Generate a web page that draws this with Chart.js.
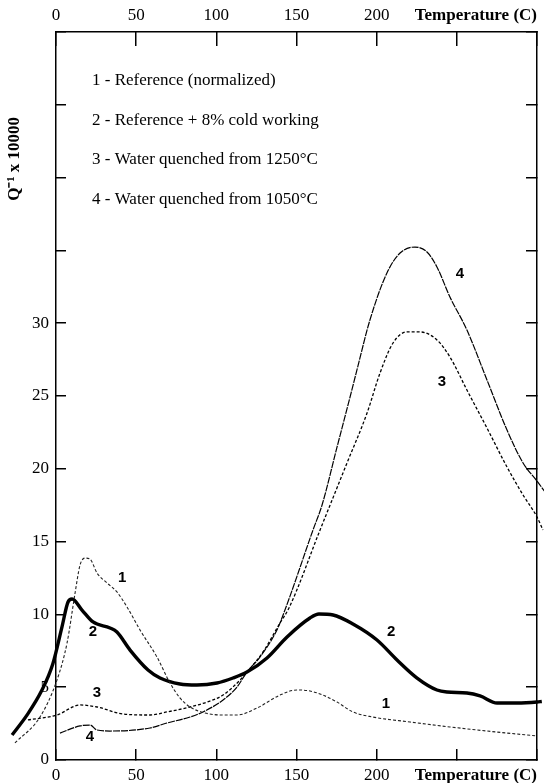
<!DOCTYPE html>
<html>
<head>
<meta charset="utf-8">
<script src="https://cdn.jsdelivr.net/npm/chart.js@4/dist/chart.umd.min.js"></script>
<style>
html,body{margin:0;padding:0;background:#fff;}
canvas{display:block;}
</style>
</head>
<body>
<canvas id="c" width="544" height="783"></canvas>
<script>
// ---- tick labels ----
const xTickLabels = [0, 50, 100, 150, 200];
const yTickLabels = [0, 5, 10, 15, 20, 25, 30];
const xTitle = 'Temperature (C)';
const yTitle = 'Q\u207B\u00B9 x 10000';

// ---- legend text ----
const legendLines = [
  '1 - Reference (normalized)',
  '2 - Reference + 8% cold working',
  '3 - Water quenched from 1250\u00B0C',
  '4 - Water quenched from 1050\u00B0C'
];

// ---- curve 1 : Reference (normalized) ----
const c1T = [-25.6, -10.0, 0.6, 6.9, 11.9, 15.0, 18.1, 21.2, 25.6, 31.8, 38.0, 44.3, 52.4, 63.0, 71.1, 77.3, 83.6, 92.9, 104.2, 112.9, 125.4, 139.7, 150.3, 158.4, 166.5, 175.3, 185.2, 197.7, 220.8, 245.7, 268.8, 300.0];
const c1Q = [1.17, 2.95, 5.49, 8.04, 11.47, 13.39, 13.87, 13.80, 12.84, 12.16, 11.54, 10.51, 8.93, 7.07, 5.29, 4.26, 3.64, 3.23, 3.09, 3.09, 3.57, 4.46, 4.81, 4.74, 4.46, 3.98, 3.30, 2.95, 2.61, 2.27, 1.99, 1.65];

// ---- curve 2 : Reference + 8% cold working ----
const c2T = [-27.4, -18.0, -9.0, -2.0, 3.7, 7.5, 10.0, 16.2, 23.1, 33.7, 38.0, 46.2, 57.4, 64.9, 77.3, 87.9, 100.4, 110.4, 119.1, 131.6, 144.1, 158.4, 164.0, 172.8, 185.2, 200.2, 212.7, 225.2, 237.6, 243.9, 256.3, 264.5, 275.1, 287.5, 300.0, 303.0];
const c2Q = [1.72, 3.10, 4.75, 6.60, 9.13, 10.85, 11.06, 10.30, 9.48, 9.07, 8.79, 7.55, 6.18, 5.63, 5.22, 5.15, 5.29, 5.63, 6.04, 7.01, 8.45, 9.75, 10.03, 9.96, 9.34, 8.24, 6.87, 5.63, 4.81, 4.67, 4.60, 4.40, 3.91, 3.91, 3.98, 4.02];

// ---- curve 3 : Water quenched from 1250°C ----
const c3T = [-17.5, 0.6, 15.0, 25.6, 41.8, 58.6, 69.2, 83.6, 94.2, 104.2, 114.8, 119.1, 129.1, 139.7, 145.3, 164.7, 181.5, 194.0, 202.1, 210.2, 218.9, 227.0, 237.6, 245.7, 256.3, 268.8, 281.3, 291.3, 300.0, 303.7];
const c3Q = [2.75, 3.09, 3.78, 3.64, 3.16, 3.09, 3.30, 3.64, 3.98, 4.46, 5.49, 6.04, 7.42, 9.41, 10.44, 15.80, 20.40, 23.83, 26.58, 28.64, 29.40, 29.40, 28.85, 27.68, 25.41, 22.80, 20.12, 18.20, 16.69, 15.80];

// ---- curve 4 : Water quenched from 1050°C ----
const c4T = [2.5, 15.0, 21.2, 25.6, 33.7, 58.6, 69.2, 83.6, 91.7, 104.2, 112.9, 119.1, 127.2, 137.8, 142.8, 160.3, 165.9, 175.3, 183.4, 187.7, 195.8, 206.4, 214.6, 223.9, 231.4, 237.6, 245.7, 256.3, 268.8, 281.3, 291.3, 300.0, 305.0];
const c4Q = [1.85, 2.34, 2.40, 2.06, 1.99, 2.20, 2.54, 2.95, 3.30, 4.12, 5.01, 6.04, 7.07, 8.93, 10.30, 15.80, 17.50, 21.50, 24.93, 26.79, 30.22, 33.45, 34.82, 35.23, 34.89, 33.86, 31.80, 29.53, 26.10, 22.66, 20.40, 19.16, 18.41];

// ---- curve number tags (text + anchor in data units) ----
const tagText = ['1', '2', '3', '4', '1', '2', '3', '4'];
const tagT = [41.2, 23.1, 25.6, 21.2, 205.8, 209.0, 240.7, 252.0];
const tagQ = [12.5, 8.8, 4.6, 1.6, 3.85, 8.8, 26.0, 33.4];

function pts(T, Q) { return T.map((t, i) => ({ x: t, y: Q[i] })); }

const SERIF = '"Liberation Serif", "Times New Roman", serif';
const SANS = '"Liberation Sans", Arial, sans-serif';

const tagsPlugin = {
  id: 'tags',
  afterDatasetsDraw(chart) {
    const { ctx, chartArea: a, scales } = chart;
    const sx = scales.x, sy = scales.y;
    ctx.save();
    ctx.fillStyle = '#000';
    ctx.font = 'bold 15px ' + SANS;
    ctx.textAlign = 'center';
    ctx.textBaseline = 'middle';
    tagText.forEach((t, i) => ctx.fillText(t, sx.getPixelForValue(tagT[i]), sy.getPixelForValue(tagQ[i])));
    ctx.font = '17px ' + SERIF;
    ctx.textAlign = 'left';
    legendLines.forEach((s, i) => ctx.fillText(s, a.left + 36, a.top + 49 + i * 39.5));
    ctx.restore();
  }
};

const common = {
  pointRadius: 0, fill: false, cubicInterpolationMode: 'monotone',
  clip: false, xAxisID: 'x', yAxisID: 'y', borderColor: '#000'
};

const fixRange = s => { s.min = 0; s.max = 300; };
const sized = (w, h) => s => {
  if (w !== null) s.width = w;
  if (h !== null) s.height = h;
  s.paddingLeft = 0; s.paddingRight = 0; s.paddingTop = 0; s.paddingBottom = 0;
};
const xLabel = v => xTickLabels.includes(v) ? String(v) : '';
const yLabel = v => yTickLabels.includes(v) ? String(v) : '';
const frame = { display: true, color: '#000', width: 1.5 };

new Chart(document.getElementById('c'), {
  type: 'line',
  data: {
    datasets: [
      Object.assign({}, common, { label: legendLines[0], data: pts(c1T, c1Q), borderWidth: 1.1, borderDash: [3, 2], borderColor: '#222' }),
      Object.assign({}, common, { label: legendLines[1], data: pts(c2T, c2Q), borderWidth: 3.4 }),
      Object.assign({}, common, { label: legendLines[2], data: pts(c3T, c3Q), borderWidth: 1.3, borderDash: [3, 2] }),
      Object.assign({}, common, { label: legendLines[3], data: pts(c4T, c4Q), borderWidth: 1.2, borderDash: [7, 1] })
    ]
  },
  options: {
    responsive: false,
    animation: false,
    devicePixelRatio: 1,
    layout: { padding: 0 },
    plugins: { legend: { display: false }, tooltip: { enabled: false } },
    scales: {
      x: {
        type: 'linear', position: 'bottom',
        afterDataLimits: fixRange,
        afterFit: sized(null, 23),
        ticks: { stepSize: 50, autoSkip: false, maxRotation: 0, padding: 16, color: '#000',
                 font: { family: SERIF, size: 17 }, callback: xLabel },
        grid: { drawOnChartArea: false, tickLength: -11, color: '#000', lineWidth: 1.5 },
        border: frame,
        title: { display: true, text: xTitle, align: 'end', color: '#000',
                 font: { family: SERIF, size: 17, weight: 'bold', lineHeight: 1.2 },
                 padding: { top: 0, bottom: -3 } }
      },
      x2: {
        type: 'linear', position: 'top',
        afterDataLimits: fixRange,
        afterFit: sized(null, 32),
        ticks: { stepSize: 50, autoSkip: false, maxRotation: 0, padding: 20, color: '#000',
                 font: { family: SERIF, size: 17 }, callback: xLabel },
        grid: { drawOnChartArea: false, tickLength: -14, color: '#000', lineWidth: 1.5 },
        border: frame,
        title: { display: true, text: xTitle, align: 'end', color: '#000',
                 font: { family: SERIF, size: 17, weight: 'bold', lineHeight: 1.2 },
                 padding: { top: 5, bottom: 0 } }
      },
      y: {
        type: 'linear', position: 'left', min: 0, max: 50,
        afterFit: sized(56, null),
        ticks: { stepSize: 5, autoSkip: false, padding: 17, color: '#000',
                 font: { family: SERIF, size: 17 }, callback: yLabel },
        grid: { drawOnChartArea: false, tickLength: -10, color: '#000', lineWidth: 1.5 },
        border: frame,
        title: { display: true, text: yTitle + '\u00A0'.repeat(20), align: 'end', color: '#000',
                 font: { family: SERIF, size: 17, weight: 'bold', lineHeight: 1 },
                 padding: { top: 6, bottom: 0 } }
      },
      y2: {
        type: 'linear', position: 'right', min: 0, max: 50,
        afterFit: sized(7, null),
        ticks: { stepSize: 5, display: false },
        grid: { drawOnChartArea: false, tickLength: -11, color: '#000', lineWidth: 1.5 },
        border: frame
      }
    }
  },
  plugins: [tagsPlugin]
});
</script>
</body>
</html>
